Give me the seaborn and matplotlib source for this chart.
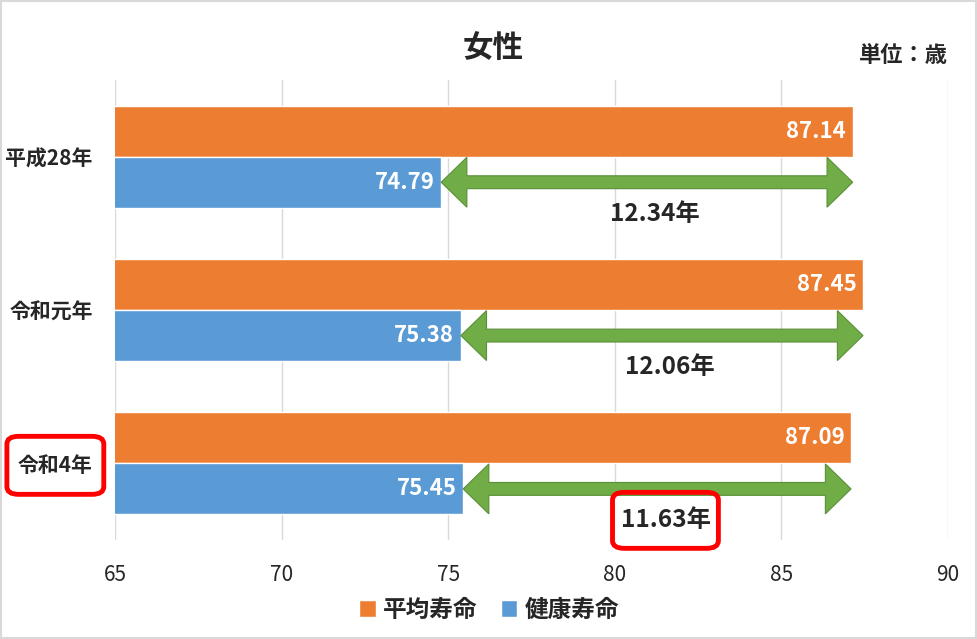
import numpy as np
import pandas as pd
import matplotlib
matplotlib.use("Agg")
import matplotlib.pyplot as plt
from matplotlib.patches import Polygon, Rectangle, FancyBboxPatch
import seaborn as sns

# ---------------- Data ----------------
years = ["平成28年", "令和元年", "令和4年"]
avg_life = [87.14, 87.45, 87.09]       # 平均寿命
healthy_life = [74.79, 75.38, 75.45]   # 健康寿命
gaps = [12.34, 12.06, 11.63]           # 差（年）
series_names = ["平均寿命", "健康寿命"]
x_ticks = [65, 70, 75, 80, 85, 90]

orange = "#ED7D31"
blue = "#5B9BD5"
green = "#70AD47"

df = pd.DataFrame({
    "year": years * 2,
    "value": avg_life + healthy_life,
    "kind": [series_names[0]] * 3 + [series_names[1]] * 3,
})

# ---------------- Style ----------------
sns.set_theme(style="white")
plt.rcParams["font.family"] = ["Noto Sans CJK JP", "DejaVu Sans"]

fig = plt.figure(figsize=(9.78, 6.39), dpi=100)
ax = fig.add_axes([115 / 978, 1 - 540 / 639, 833 / 978, 460 / 639])

sns.barplot(data=df, y="year", x="value", hue="kind", orient="h",
            palette=[orange, blue], width=0.667, saturation=1,
            ax=ax, legend=True)

ax.set_xlim(65, 90)
ax.set_xticks(x_ticks)
ax.set_xlabel("")
ax.set_ylabel("")
ax.grid(axis="x", color="#d9d9d9", linewidth=1)
ax.set_axisbelow(True)
for s in ax.spines.values():
    s.set_visible(False)
ax.tick_params(axis="x", labelsize=15, pad=17, length=0)
ax.tick_params(axis="y", labelsize=15, pad=16, length=0)
for lbl in ax.get_yticklabels():
    lbl.set_fontweight("bold")

# value labels inside the bars
for container, vals in zip(ax.containers, [avg_life, healthy_life]):
    for bar, v in zip(container, vals):
        ax.text(bar.get_width() - 0.2, bar.get_y() + bar.get_height() / 2,
                f"{v:.2f}", color="white", fontsize=16, fontweight="bold",
                ha="right", va="center", zorder=5)

# double arrows showing the gap
hl, hh, sh = 0.77, 0.163, 0.042
gap_texts = []
for i, (b_or, b_bl) in enumerate(zip(ax.containers[0], ax.containers[1])):
    x0 = b_bl.get_width()
    x1 = b_or.get_width()
    yc = b_bl.get_y() + b_bl.get_height() / 2
    pts = [(x0, yc), (x0 + hl, yc - hh), (x0 + hl, yc - sh), (x1 - hl, yc - sh),
           (x1 - hl, yc - hh), (x1, yc), (x1 - hl, yc + hh), (x1 - hl, yc + sh),
           (x0 + hl, yc + sh), (x0 + hl, yc + hh)]
    ax.add_patch(Polygon(pts, closed=True, facecolor=green,
                         edgecolor="#5a8f38", linewidth=0.8, zorder=4))
    t = ax.text((x0 + x1) / 2 + 0.25, yc + 0.205, f"{gaps[i]:.2f}年",
                fontsize=17.5, fontweight="bold", ha="center", va="center",
                zorder=7)
    gap_texts.append(t)

# legend
handles, labels = ax.get_legend_handles_labels()
ax.get_legend().remove()
fig.legend(handles, labels, loc="center", bbox_to_anchor=(0.5, 1 - 610 / 639),
           ncol=2, frameon=False, handlelength=0.7, handleheight=0.7,
           handletextpad=0.3, columnspacing=1.0,
           prop={"size": 17, "weight": "bold"})

fig.text(493 / 978, 1 - 48 / 639, "女性", fontsize=22, fontweight="bold",
         ha="center", va="center")
fig.text(948 / 978, 1 - 55 / 639, "単位：歳", fontsize=16, fontweight="bold",
         ha="right", va="center")

fig.patches.append(Rectangle((0.001, 0.001), 0.997, 0.997, transform=fig.transFigure,
                             fill=False, edgecolor="#d9d9d9", linewidth=1.5))


# red rounded boxes around the latest year and its gap
def red_box(text_obj, padx, pady):
    fig.canvas.draw()
    bb = text_obj.get_window_extent()
    W, H = fig.bbox.width, fig.bbox.height
    cx = (bb.x0 + bb.x1) / 2
    cy = (bb.y0 + bb.y1) / 2
    w = bb.width + 2 * padx
    h = pady * 2
    fig.patches.append(FancyBboxPatch(((cx - w / 2) / W, (cy - h / 2) / H), w / W, h / H,
                                      boxstyle="round,pad=0,rounding_size=0.012",
                                      transform=fig.transFigure, facecolor="none",
                                      edgecolor="red", linewidth=3.5, zorder=3))


# white backing so the box sits over the arrow shaft
fig.canvas.draw()
bb = gap_texts[-1].get_window_extent()
inv = ax.transData.inverted()
(xa, ya), (xb, yb) = inv.transform([(bb.x0 - 8, bb.y0 - 12), (bb.x1 + 8, bb.y1 + 12)])
ax.add_patch(FancyBboxPatch((min(xa, xb), min(ya, yb)), abs(xb - xa), abs(yb - ya),
                            boxstyle="round,pad=0,rounding_size=0.1", facecolor="white",
                            edgecolor="none", zorder=6, clip_on=False))

red_box(gap_texts[-1], 8, 28)
red_box(ax.get_yticklabels()[2], 11, 29)

fig.savefig("out.png", dpi=100)
